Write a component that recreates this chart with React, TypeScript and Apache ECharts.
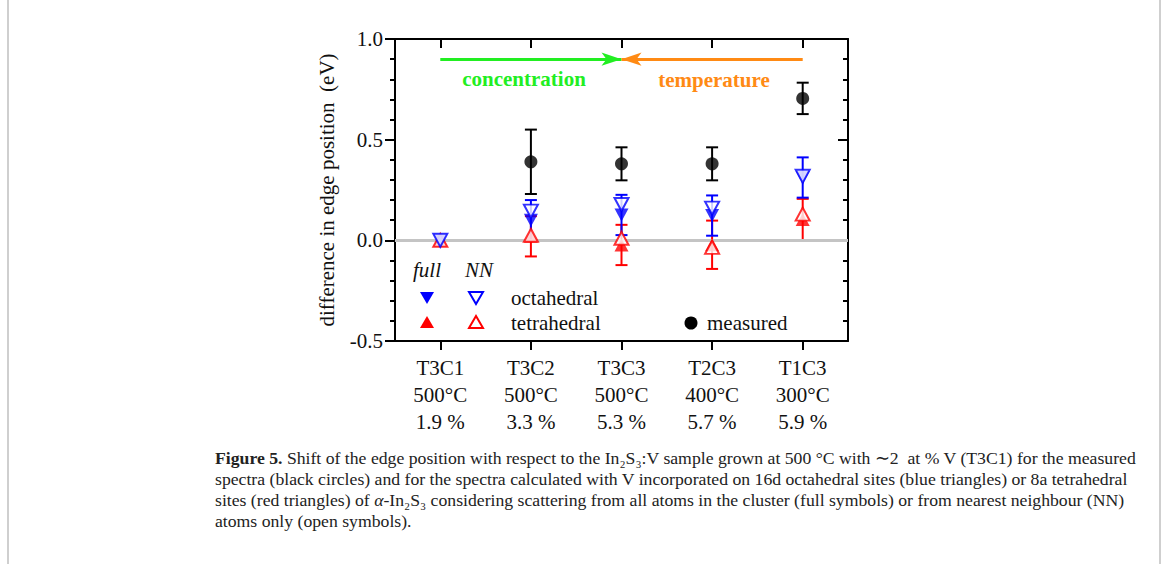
import React, { useEffect, useRef } from "react";
import * as echarts from "echarts";

// ---- data ----
const samples = ["T3C1", "T3C2", "T3C3", "T2C3", "T1C3"];
const temps = ["500°C", "500°C", "500°C", "400°C", "300°C"];
const concs = ["1.9 %", "3.3 %", "5.3 %", "5.7 %", "5.9 %"];

const measured = [null, 0.39, 0.38, 0.38, 0.705];
const measuredErr = [null, 0.16, 0.082, 0.082, 0.078];
const octFull = [0, 0.1, 0.126, 0.123, 0.312];
const octFullErr = [null, 0.1, 0.1, 0.1, 0.1];
const octNN = [0, 0.145, 0.178, 0.16, 0.318];
const tetFull = [0, 0.02, -0.023, -0.022, 0.103];
const tetFullErr = [null, 0.1, 0.1, 0.12, 0.103];
const tetNN = [0, 0.025, 0.01, -0.035, 0.13];

const yTicks = { min: -0.5, max: 1.0, interval: 0.5 };
const arrowY = 0.9;

const FONT = "Liberation Serif";
const BLUE = "#0000ff";
const RED = "#ff0000";
const GREEN = "#22ee22";
const ORANGE = "#ff8a14";

function errData(vals: (number | null)[], errs: (number | null)[]) {
  const out: number[][] = [];
  vals.forEach((v, i) => {
    const e = errs[i];
    if (v != null && e != null) out.push([i, v - e, v + e]);
  });
  return out;
}

function errSeries(name: string, vals: (number | null)[], errs: (number | null)[], color: string, z: number) {
  return {
    type: "custom",
    name,
    z,
    data: errData(vals, errs),
    encode: { x: 0, y: [1, 2] },
    renderItem: (params: any, api: any) => {
      const x = api.value(0);
      const lo = api.coord([x, api.value(1)]);
      const hi = api.coord([x, api.value(2)]);
      const w = 6;
      const st = { stroke: color, lineWidth: 2 };
      return {
        type: "group",
        children: [
          { type: "line", shape: { x1: lo[0], y1: lo[1], x2: hi[0], y2: hi[1] }, style: st },
          { type: "line", shape: { x1: lo[0] - w, y1: lo[1], x2: lo[0] + w, y2: lo[1] }, style: st },
          { type: "line", shape: { x1: hi[0] - w, y1: hi[1], x2: hi[0] + w, y2: hi[1] }, style: st },
        ],
      };
    },
  };
}

function tri(cx: number, cy: number, down: boolean) {
  const hw = 7, hh = 6;
  return down
    ? [[cx - hw, cy - hh], [cx + hw, cy - hh], [cx, cy + hh]]
    : [[cx - hw, cy + hh], [cx + hw, cy + hh], [cx, cy - hh]];
}

export default function App() {
  const ref = useRef<HTMLDivElement>(null);
  useEffect(() => {
    if (!ref.current) return;
    const chart = echarts.init(ref.current, null, { renderer: "svg" });
    const labels = samples.map((s, i) => `${s}\n${temps[i]}\n${concs[i]}`);
    const mkLine = () => ({ show: true, onZero: false, lineStyle: { color: "#000", width: 2 } });
    const mkTick = (inside: boolean, length: number) => ({
      show: true,
      inside,
      length,
      lineStyle: { width: 2, color: "#000" },
    });
    const legendFont = { fontFamily: FONT, fontSize: 21, fill: "#111" };
    const capLine1 =
      "{b|Figure 5.} Shift of the edge position with respect to the In₂S₃:V sample grown at 500 °C with ∼2  at % V (T3C1) for the measured";
    const capLine2 =
      "spectra (black circles) and for the spectra calculated with V incorporated on 16d octahedral sites (blue triangles) or 8a tetrahedral";
    const capLine3 =
      "sites (red triangles) of {i|α}-In₂S₃ considering scattering from all atoms in the cluster (full symbols) or from nearest neighbour (NN)";
    const capLine4 = "atoms only (open symbols).";
    const capStyle = (t: string, y: number) => ({
      type: "text",
      left: 215,
      top: y,
      style: {
        text: t,
        fontFamily: FONT,
        fontSize: 17.7,
        fill: "#222",
        rich: {
          b: { fontFamily: FONT, fontSize: 17.7, fontWeight: "bold", fill: "#222" },
          i: { fontFamily: FONT, fontSize: 17.7, fontStyle: "italic", fill: "#222" },
        },
      },
    });

    chart.setOption({
      animation: false,
      backgroundColor: "#fff",
      textStyle: { fontFamily: FONT },
      grid: { left: 395, right: 319, top: 39, bottom: 223 },
      xAxis: [
        {
          type: "category",
          data: labels,
          position: "bottom",
          boundaryGap: true,
          axisLine: mkLine(),
          axisTick: { ...mkTick(false, 9), alignWithLabel: true },
          axisLabel: { fontFamily: FONT, fontSize: 21, color: "#111", lineHeight: 27, margin: 13 },
          splitLine: { show: false },
        },
        {
          type: "category",
          data: labels,
          position: "top",
          boundaryGap: true,
          axisLine: mkLine(),
          axisTick: { ...mkTick(true, 9), alignWithLabel: true },
          axisLabel: { show: false },
          splitLine: { show: false },
        },
      ],
      yAxis: [
        {
          type: "value",
          min: yTicks.min,
          max: yTicks.max,
          interval: yTicks.interval,
          position: "left",
          name: "difference in edge position  (eV)",
          nameLocation: "middle",
          nameGap: 58,
          nameTextStyle: { fontFamily: FONT, fontSize: 21, color: "#111" },
          axisLine: mkLine(),
          axisTick: mkTick(false, 10),
          minorTick: { show: true, splitNumber: 5, length: 5, lineStyle: { width: 2, color: "#000" } },
          axisLabel: {
            fontFamily: FONT,
            fontSize: 21,
            color: "#111",
            margin: 12,
            formatter: (v: number) => v.toFixed(1),
          },
          splitLine: { show: false },
        },
        {
          type: "value",
          min: yTicks.min,
          max: yTicks.max,
          interval: yTicks.interval,
          position: "right",
          axisLine: mkLine(),
          axisTick: mkTick(true, 10),
          minorTick: { show: true, splitNumber: 5, length: 5, lineStyle: { width: 2, color: "#000" } },
          axisLabel: { show: false },
          splitLine: { show: false },
        },
      ],
      series: [
        {
          type: "line",
          name: "zero",
          data: [],
          z: 1,
          markLine: {
            silent: true,
            symbol: "none",
            label: { show: false },
            lineStyle: { color: "#c4c4c4", width: 3, type: "solid" },
            data: [{ yAxis: 0 }],
          },
        },
        {
          type: "line",
          name: "arrows",
          data: [],
          z: 3,
          markLine: {
            silent: true,
            label: { show: false },
            symbol: ["none", "arrow"],
            symbolSize: [10, 20],
            data: [
              [
                { coord: [0, arrowY], lineStyle: { color: GREEN, width: 3, type: "solid" }, itemStyle: { color: GREEN } },
                { coord: [2, arrowY] },
              ],
              [
                { coord: [4, arrowY], lineStyle: { color: ORANGE, width: 3, type: "solid" }, itemStyle: { color: ORANGE } },
                { coord: [2, arrowY] },
              ],
            ],
          },
        },
        errSeries("tetErr", tetFull, tetFullErr, RED, 4),
        errSeries("octErr", octFull, octFullErr, BLUE, 4),
        errSeries("measErr", measured, measuredErr, "#000", 4),
        {
          type: "scatter",
          name: "tetrahedral full",
          z: 5,
          symbol: "triangle",
          symbolSize: [14, 13],
          itemStyle: { color: RED },
          data: tetFull,
        },
        {
          type: "scatter",
          name: "tetrahedral NN",
          z: 6,
          symbol: "triangle",
          symbolSize: [14, 13],
          itemStyle: { color: "#fff", borderColor: RED, borderWidth: 2 },
          data: tetNN,
        },
        {
          type: "scatter",
          name: "octahedral full",
          z: 7,
          symbol: "triangle",
          symbolRotate: 180,
          symbolSize: [14, 13],
          itemStyle: { color: BLUE },
          data: octFull,
        },
        {
          type: "scatter",
          name: "octahedral NN",
          z: 8,
          symbol: "triangle",
          symbolRotate: 180,
          symbolSize: [14, 13],
          itemStyle: { color: "#fff", borderColor: BLUE, borderWidth: 2 },
          data: octNN,
        },
        {
          type: "scatter",
          name: "measured",
          z: 9,
          symbol: "circle",
          symbolSize: 13,
          itemStyle: { color: "#000" },
          data: measured.map((v) => (v == null ? "-" : v)),
        },
      ],
      graphic: [
        { type: "rect", left: 7, top: 0, shape: { width: 2, height: 564 }, style: { fill: "#cfcfcf" } },
        { type: "rect", left: 1159, top: 0, shape: { width: 2, height: 564 }, style: { fill: "#cfcfcf" } },
        {
          type: "text", x: 524, y: 79,
          style: { text: "concentration", fontFamily: FONT, fontSize: 21, fontWeight: "bold", fill: GREEN, align: "center", verticalAlign: "middle" },
        },
        {
          type: "text", x: 714, y: 80,
          style: { text: "temperature", fontFamily: FONT, fontSize: 21, fontWeight: "bold", fill: ORANGE, align: "center", verticalAlign: "middle" },
        },
        { type: "text", x: 413, y: 270, style: { ...legendFont, text: "full", fontStyle: "italic", verticalAlign: "middle" } },
        { type: "text", x: 465, y: 270, style: { ...legendFont, text: "NN", fontStyle: "italic", verticalAlign: "middle" } },
        { type: "polygon", shape: { points: tri(427, 298, true) }, style: { fill: BLUE } },
        { type: "polygon", shape: { points: tri(476, 298, true) }, style: { fill: "#fff", stroke: BLUE, lineWidth: 2 } },
        { type: "text", x: 511, y: 298, style: { ...legendFont, text: "octahedral", verticalAlign: "middle" } },
        { type: "polygon", shape: { points: tri(427, 322, false) }, style: { fill: RED } },
        { type: "polygon", shape: { points: tri(476, 322, false) }, style: { fill: "#fff", stroke: RED, lineWidth: 2 } },
        { type: "text", x: 511, y: 323, style: { ...legendFont, text: "tetrahedral", verticalAlign: "middle" } },
        { type: "circle", shape: { cx: 691, cy: 323, r: 6.5 }, style: { fill: "#000" } },
        { type: "text", x: 707, y: 323, style: { ...legendFont, text: "measured", verticalAlign: "middle" } },
        capStyle(capLine1, 449),
        capStyle(capLine2, 470),
        capStyle(capLine3, 491),
        capStyle(capLine4, 512),
      ],
    });
    return () => chart.dispose();
  }, []);
  return (
    <div
      ref={ref}
      style={{ position: "absolute", left: 0, top: 0, width: 1167, height: 564, background: "#fff" }}
    />
  );
}
